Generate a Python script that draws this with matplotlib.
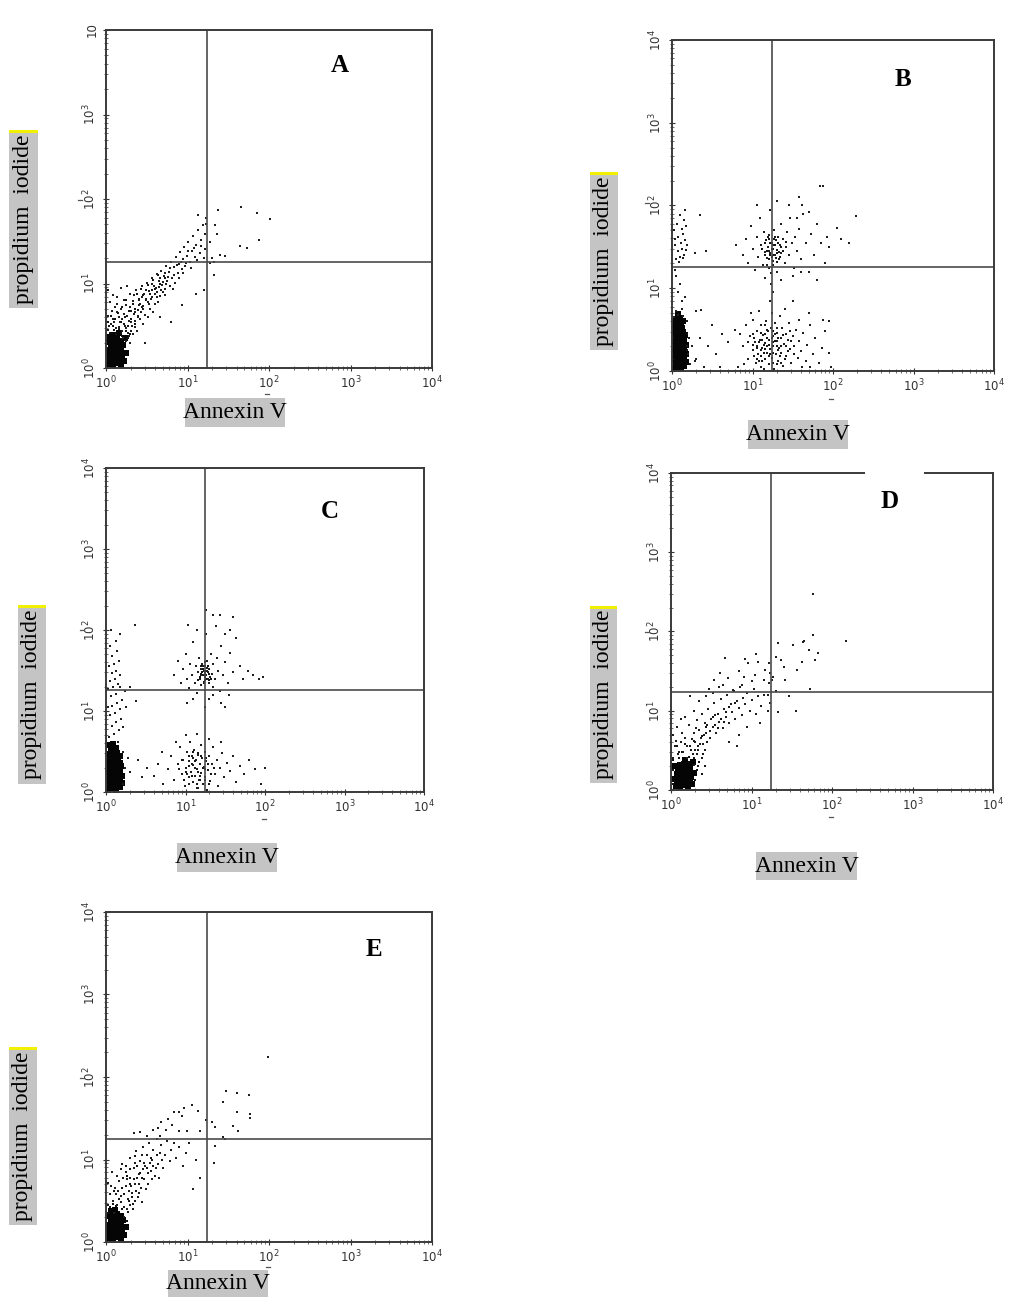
import matplotlib
matplotlib.use('Agg')
import matplotlib.pyplot as plt
from matplotlib.patches import Rectangle
from matplotlib.lines import Line2D
import numpy as np

# ---------------- data (log10 decades of Annexin V, propidium iodide) ----------------
letters = ['A', 'B', 'C', 'D', 'E']
decade_ticks = [1, 10, 100, 1000, 10000]
x_tick_labels = [r'$10^0$', r'$10^1$', r'$10^2$', r'$10^3$', r'$10^4$']
y_tick_labels = [r'$10^0$', r'$10^1$', r'$10^2$', r'$10^3$', r'$10^4$']
y_tick_labels_A = [r'$10^0$', r'$10^1$', r'$10^2$', r'$10^3$', '10']
gate_x = [17.5, 17.4, 17.6, 17.4, 17.4]
gate_y = [17.8, 18.2, 18.0, 17.4, 17.8]

A_core = [(0.03,0.05),(0.08,0.03),(0.13,0.06),(0.18,0.04),(0.22,0.08),(0.05,0.10),(0.10,0.09),(0.15,0.11),
          (0.20,0.13),(0.02,0.15),(0.07,0.15),(0.12,0.16),(0.17,0.17),(0.04,0.21),(0.09,0.20),(0.14,0.22),
          (0.19,0.21),(0.24,0.18),(0.06,0.26),(0.11,0.27),(0.16,0.28),(0.21,0.27),(0.03,0.31),(0.08,0.33),
          (0.13,0.34),(0.18,0.32),(0.23,0.35),(0.10,0.39),(0.16,0.41),(0.05,0.37)]
A_mid = [(0.05,0.42),(0.12,0.40),(0.20,0.38),(0.27,0.36),(0.08,0.50),(0.16,0.46),(0.24,0.44),(0.31,0.44),(0.11,0.58),
         (0.19,0.54),(0.27,0.50),(0.35,0.52),(0.06,0.62),(0.15,0.65),(0.23,0.60),(0.31,0.58),(0.39,0.62),(0.20,0.72),
         (0.28,0.68),(0.36,0.70),(0.44,0.72),(0.25,0.80),(0.33,0.76),(0.41,0.80),(0.49,0.80),(0.38,0.88),(0.46,0.86),
         (0.54,0.88),(0.43,0.94),(0.52,0.98),(0.60,0.94),(0.58,1.04),(0.66,1.00),(0.64,1.10),(0.72,1.06),(0.10,0.45),
         (0.02,0.55),(0.18,0.42),(0.30,0.40),(0.22,0.52)]
A_band = [(0.02,0.45),(0.06,0.52),(0.03,0.62),(0.09,0.58),(0.12,0.47),(0.14,0.66),(0.05,0.78),(0.17,0.55),(0.20,0.44),(0.19,0.70),
          (0.23,0.50),(0.22,0.80),(0.26,0.62),(0.27,0.42),(0.29,0.72),(0.30,0.88),(0.31,0.54),(0.34,0.64),(0.33,0.79),(0.36,0.48),
          (0.37,0.92),(0.39,0.69),(0.41,0.82),(0.42,0.58),(0.44,0.97),(0.45,0.73),(0.47,0.87),(0.48,0.63),(0.50,1.01),(0.51,0.78),
          (0.53,0.91),(0.54,0.70),(0.56,1.06),(0.57,0.84),(0.59,0.97),(0.60,0.76),(0.62,1.11),(0.63,0.90),(0.65,1.03),(0.66,0.85),
          (0.68,1.15),(0.69,0.98),(0.71,1.09),(0.72,0.93),(0.74,1.21),(0.75,1.03),(0.77,1.14),(0.78,0.97),(0.80,1.26),(0.81,1.07),
          (0.83,1.19),(0.85,1.01),(0.86,1.31),(0.88,1.13),(0.89,1.23),(0.91,1.37),(0.93,1.17),(0.94,1.29),(0.96,1.43),(0.97,1.21),
          (0.99,1.33),(1.01,1.49),(1.03,1.26),(1.05,1.39),(1.07,1.56),(1.09,1.31),(1.11,1.46),(1.13,1.63),(1.15,1.36),(1.17,1.51),
          (1.19,1.69),(1.21,1.41),(1.22,1.59),(1.23,1.77),
          (0.25,0.32),(0.28,0.38),(0.30,0.30),(0.24,0.47),(0.33,0.40),(0.16,0.60),(0.11,0.72),(0.08,0.86),(0.02,0.92),(0.14,0.84),
          (0.18,0.95),(0.26,0.97),(0.35,0.56),(0.38,0.44),(0.40,0.74),(0.43,0.66),(0.46,0.52),(0.52,0.60),(0.55,0.82),(0.58,0.66),
          (0.61,0.95),(0.64,0.78),(0.67,0.92),(0.70,1.02),(0.73,0.86),(0.76,1.08),(0.79,1.18),(0.82,0.93),(0.84,1.10),(0.87,1.22),
          (0.90,1.07),(0.92,1.26),(0.95,1.12),(0.98,1.24),(1.00,1.38),(1.04,1.18),(1.08,1.42),(1.12,1.28),(1.16,1.44),(1.20,1.30),
          (0.21,0.36),(0.20,0.58),(0.32,0.50),(0.36,0.66),(0.44,0.84),(0.49,0.92),(0.57,1.00),(0.60,0.88),(0.65,0.96),(0.72,1.12),
          (0.04,0.50),(0.07,0.68),(0.10,0.55),(0.13,0.76),(0.16,0.48),(0.22,0.64),(0.25,0.74),(0.28,0.56),(0.31,0.68),(0.34,0.86),
          (0.39,0.60),(0.42,0.76),(0.46,0.70),(0.49,0.82),(0.53,0.76),(0.56,0.92),(0.62,0.84),(0.66,1.06),(0.70,0.90),(0.74,1.00)]
A_sparse = [(1.38,1.87),(1.66,1.91),(1.85,1.83),(2.01,1.76),(1.88,1.52),(1.64,1.44),(1.73,1.42),(1.34,1.69),(1.36,1.58),
            (1.28,1.49),(1.40,1.34),(1.46,1.33),(1.32,1.26),(1.32,1.10),(1.20,0.92),(1.11,0.88),(0.93,0.75),(0.66,0.60),
            (1.13,1.81),(1.23,1.71),(1.30,1.30),(1.27,1.24),(0.48,0.29),(0.80,0.55)]

B_core = [(0.03,0.03),(0.07,0.05),(0.11,0.03),(0.15,0.06),(0.05,0.09),(0.09,0.10),(0.13,0.09),(0.17,0.11),
          (0.03,0.14),(0.07,0.15),(0.11,0.16),(0.15,0.14),(0.05,0.20),(0.09,0.19),(0.13,0.21),(0.17,0.20),
          (0.03,0.25),(0.07,0.26),(0.11,0.24),(0.15,0.26),(0.05,0.30),(0.09,0.31),(0.13,0.30),(0.17,0.32),
          (0.03,0.36),(0.07,0.35),(0.11,0.37),(0.15,0.36),(0.05,0.41),(0.09,0.42),(0.13,0.40),(0.16,0.43),
          (0.03,0.47),(0.07,0.46),(0.11,0.48),(0.14,0.47),(0.05,0.52),(0.09,0.53),(0.13,0.52),(0.07,0.57),
          (0.11,0.58),(0.04,0.56),(0.05,0.62),(0.10,0.64),(0.14,0.60),(0.08,0.69)]
B_mid = [(1.02,0.40),(1.06,0.28),(1.10,0.46),(1.14,0.22),(1.18,0.40),(1.22,0.20),(1.26,0.48),(1.30,0.30),(1.34,0.18),
         (1.38,0.44),(1.05,0.15),(1.12,0.12),(1.20,0.32),(1.28,0.36),(1.36,0.30),(1.44,0.24),(1.48,0.36),(1.16,0.26),
         (1.24,0.40),(1.32,0.40),(1.08,0.35),(1.40,0.15),(1.52,0.20),(1.00,0.32),(1.26,0.22),(1.18,0.50),(1.10,0.18),
         (1.30,0.08),(1.15,1.55),(1.18,1.45),(1.20,1.35),(1.22,1.55),(1.24,1.48),(1.26,1.40),(1.28,1.52),(1.30,1.42),
         (1.32,1.55),(1.34,1.38),(1.36,1.50),(1.20,1.60),(1.16,1.40),(1.25,1.28),(1.38,1.45),(1.28,1.62),(1.42,1.56),
         (1.22,1.40),(1.31,1.32),(1.12,1.48),(0.19,0.45),(0.19,0.25),(0.01,0.40),(0.01,0.15)]
B_ul = [(0.05,1.35),(0.10,1.38),(0.15,1.40),(0.08,1.45),(0.13,1.48),(0.18,1.46),(0.04,1.52),(0.11,1.55),(0.16,1.58),
        (0.07,1.62),(0.14,1.66),(0.03,1.70),(0.12,1.72),(0.17,1.75),(0.06,1.78),(0.15,1.82),(0.10,1.88),(0.16,1.95),
        (0.04,1.60),(0.19,1.52),(0.09,1.32),(0.14,1.36),(0.42,1.45),(0.35,1.88),(0.28,1.42),(0.05,1.15),(0.10,1.05),
        (0.07,0.95),(0.12,0.85),(0.04,1.22),(0.30,0.72),(0.36,0.74),(0.16,0.90),(0.02,0.65),(0.08,0.68),(0.14,0.66),
        (0.19,0.60),(0.21,0.40),(0.20,0.20),(0.22,0.08),(0.05,0.72),(0.12,0.75),(0.25,0.30),(0.30,0.15),(0.19,0.30)]
B_lr = [(0.88,0.30),(0.92,0.55),(0.95,0.15),(0.97,0.42),(1.00,0.25),(1.01,0.62),(1.03,0.35),(1.04,0.10),(1.06,0.48),(1.07,0.20),
        (1.09,0.38),(1.10,0.56),(1.11,0.05),(1.12,0.28),(1.13,0.44),(1.15,0.15),(1.16,0.34),(1.17,0.60),(1.18,0.22),(1.19,0.48),
        (1.20,0.08),(1.21,0.38),(1.22,0.27),(1.23,0.52),(1.24,0.16),(1.25,0.42),(1.26,0.30),(1.27,0.03),(1.28,0.58),(1.29,0.20),
        (1.30,0.36),(1.31,0.46),(1.32,0.12),(1.33,0.28),(1.34,0.66),(1.35,0.40),(1.36,0.22),(1.37,0.52),(1.38,0.06),(1.39,0.33),
        (1.41,0.45),(1.42,0.18),(1.44,0.38),(1.45,0.58),(1.47,0.26),(1.48,0.10),(1.50,0.42),(1.52,0.30),(1.54,0.50),(1.56,0.16),
        (1.58,0.36),(1.60,0.24),(1.63,0.46),(1.66,0.12),(1.68,0.32),(1.72,0.55),(1.75,0.20),(1.78,0.40),(1.82,0.10),(1.86,0.28),
        (1.90,0.48),(1.95,0.22),(1.98,0.05),(0.90,0.08),(0.85,0.45),(0.98,0.70),(1.08,0.72),(1.14,0.02),(1.24,0.70),(1.40,0.75),
        (1.58,0.62),(1.70,0.70),(1.22,0.85),(1.05,0.30),(1.15,0.45),(1.25,0.35),(1.18,0.30),(1.28,0.45),(1.12,0.38),(1.32,0.25),
        (1.02,0.18),(1.36,0.10),(1.46,0.48),(1.20,0.18),(1.10,0.25),(0.95,0.35),(1.62,0.05),(1.88,0.62),(1.72,0.05),
        (0.35,0.40),(0.45,0.30),(0.55,0.20),(0.62,0.45),(0.70,0.35),(0.78,0.50),(0.50,0.55),(0.28,0.12),(0.60,0.05),
        (0.82,0.05),(0.40,0.05),(1.08,0.12),(1.14,0.32),(1.26,0.10),(1.30,0.52),(1.16,0.55),(1.00,0.45),(1.42,0.30)]
B_ur = [(0.88,1.40),(0.92,1.60),(0.95,1.30),(0.98,1.75),(1.00,1.48),(1.03,1.22),(1.05,1.62),(1.07,1.38),(1.09,1.85),(1.11,1.52),
        (1.13,1.28),(1.14,1.68),(1.15,1.44),(1.16,1.12),(1.17,1.58),(1.18,1.36),(1.19,1.50),(1.20,1.25),(1.21,1.64),(1.22,1.42),
        (1.23,1.05),(1.24,1.55),(1.25,1.33),(1.26,1.48),(1.27,1.70),(1.28,1.40),(1.29,1.58),(1.30,1.20),(1.31,1.46),(1.32,1.62),
        (1.33,1.35),(1.34,1.52),(1.35,1.78),(1.36,1.42),(1.38,1.60),(1.40,1.30),(1.41,1.50),(1.43,1.68),(1.45,1.40),(1.47,1.85),
        (1.49,1.55),(1.51,1.25),(1.53,1.62),(1.55,1.45),(1.58,1.72),(1.60,1.35),(1.63,1.90),(1.66,1.55),(1.70,1.20),(1.73,1.65),
        (1.76,1.40),(1.80,1.78),(1.85,1.55),(1.90,1.30),(1.22,1.95),(1.30,2.05),(1.45,2.00),(1.58,2.10),(1.35,1.10),(1.50,1.15),
        (1.24,1.38),(1.26,1.52),(1.21,1.45),(1.29,1.36),(1.19,1.62),(1.33,1.44),(1.18,1.28),(1.27,1.60),(1.23,1.18),(0.80,1.52)]
B_sparse = [(2.29,1.87),(2.05,1.73),(1.84,2.23),(1.88,2.23),(2.10,1.60),(1.95,1.50),(1.92,1.62),(2.20,1.55),(1.60,1.20),
            (1.80,1.10),(1.50,0.85),(1.95,0.60),(1.25,0.95),(1.05,2.00),(1.62,2.00),(1.70,1.92),(1.55,1.85)]

C_core = [(0.03,0.03),(0.08,0.05),(0.13,0.03),(0.18,0.06),(0.05,0.09),(0.10,0.10),(0.15,0.09),(0.20,0.11),
          (0.03,0.14),(0.08,0.15),(0.13,0.16),(0.18,0.14),(0.05,0.20),(0.10,0.19),(0.15,0.21),(0.20,0.20),
          (0.03,0.25),(0.08,0.26),(0.13,0.24),(0.18,0.26),(0.05,0.30),(0.10,0.31),(0.15,0.30),(0.19,0.32),
          (0.03,0.36),(0.08,0.35),(0.13,0.37),(0.17,0.36),(0.05,0.41),(0.10,0.42),(0.15,0.40),(0.04,0.47),
          (0.09,0.46),(0.14,0.48),(0.06,0.53),(0.12,0.54),(0.09,0.59),(0.17,0.44),(0.02,0.58)]
C_mid = [(1.18,1.42),(1.21,1.48),(1.24,1.44),(1.27,1.50),(1.30,1.46),(1.22,1.52),(1.26,1.40),(1.19,1.55),(1.28,1.56),
         (1.32,1.40),(1.24,1.60),(1.16,1.38),(1.23,1.35),(1.29,1.38),(1.20,1.46),(0.95,0.40),(1.00,0.25),(1.04,0.45),
         (1.08,0.20),(1.12,0.38),(1.16,0.25),(1.20,0.45),(1.24,0.15),(1.28,0.35),(1.32,0.22),(1.05,0.32),(1.14,0.10),
         (1.22,0.30),(1.18,0.15),(1.10,0.50),(1.26,0.42),(1.36,0.30),(0.98,0.15),(1.30,0.10),(1.16,0.48)]
C_left = [(0.04,0.68),(0.10,0.72),(0.16,0.76),(0.07,0.82),(0.13,0.86),(0.19,0.90),(0.05,0.95),(0.11,0.98),(0.17,1.02),
          (0.08,1.06),(0.14,1.10),(0.20,1.14),(0.06,1.18),(0.12,1.21),(0.03,1.27),(0.09,1.30),(0.15,1.33),(0.05,1.37),
          (0.11,1.40),(0.17,1.44),(0.07,1.47),(0.13,1.50),(0.04,1.55),(0.10,1.58),(0.16,1.62),(0.08,1.68),(0.14,1.74),
          (0.05,1.80),(0.12,1.86),(0.17,1.95),(0.06,2.00),(0.24,1.25),(0.22,0.80),(0.30,1.30),(0.38,1.12),(0.25,1.05),
          (0.36,2.06),(0.18,1.30),(0.02,1.05),(0.15,0.62),(0.22,0.50),(0.24,0.30),(0.21,0.10),(0.28,0.42)]
C_ur = [(0.85,1.45),(0.90,1.62),(0.94,1.35),(0.97,1.52),(1.00,1.70),(1.02,1.40),(1.04,1.28),(1.06,1.58),(1.08,1.45),(1.10,1.85),
        (1.12,1.35),(1.13,1.55),(1.15,1.22),(1.16,1.48),(1.17,1.65),(1.18,1.40),(1.19,1.52),(1.20,1.32),(1.21,1.58),(1.22,1.45),
        (1.23,1.50),(1.24,1.38),(1.25,1.55),(1.26,1.44),(1.27,1.62),(1.28,1.48),(1.29,1.35),(1.30,1.52),(1.31,1.42),(1.32,1.70),
        (1.33,1.46),(1.34,1.30),(1.35,1.58),(1.37,1.40),(1.39,1.66),(1.41,1.50),(1.43,1.25),(1.45,1.80),(1.47,1.45),(1.50,1.60),
        (1.53,1.35),(1.56,1.72),(1.60,1.48),(1.64,1.90),(1.68,1.55),(1.72,1.40),(1.78,1.50),(1.85,1.45),(1.26,1.95),(1.38,2.05),
        (1.15,2.00),(1.50,1.95),(1.24,1.42),(1.26,1.50),(1.22,1.55),(1.28,1.40),(1.25,1.47),(1.23,1.36),(1.27,1.53),(1.20,1.44),
        (1.10,1.15),(1.30,1.15),(1.45,1.10),(1.55,1.20),(1.02,1.10),(1.25,1.05),(1.50,1.05),(1.35,1.20)]
C_lr = [(0.52,0.30),(0.60,0.20),(0.66,0.35),(0.72,0.10),(0.78,0.28),(0.82,0.45),(0.86,0.15),(0.90,0.35),(0.93,0.55),(0.95,0.22),
        (0.97,0.40),(0.99,0.08),(1.01,0.30),(1.02,0.50),(1.04,0.18),(1.05,0.38),(1.06,0.62),(1.07,0.25),(1.08,0.44),(1.09,0.12),
        (1.10,0.33),(1.11,0.52),(1.12,0.20),(1.13,0.40),(1.14,0.05),(1.15,0.28),(1.16,0.46),(1.17,0.15),(1.18,0.35),(1.19,0.58),
        (1.20,0.24),(1.21,0.42),(1.22,0.10),(1.23,0.31),(1.24,0.50),(1.25,0.18),(1.26,0.38),(1.27,0.03),(1.28,0.27),(1.29,0.45),
        (1.31,0.14),(1.33,0.34),(1.35,0.55),(1.37,0.22),(1.39,0.40),(1.41,0.08),(1.43,0.30),(1.46,0.48),(1.49,0.18),(1.52,0.36),
        (1.56,0.26),(1.60,0.44),(1.64,0.12),(1.68,0.32),(1.74,0.22),(1.80,0.40),(1.88,0.28),(1.95,0.10),(2.00,0.30),
        (0.45,0.18),(0.40,0.40),(0.30,0.25),(0.70,0.50),(0.88,0.62),(1.00,0.70),(1.15,0.72),(1.30,0.66),(1.45,0.62),
        (1.05,0.10),(1.12,0.30),(1.18,0.20),(1.10,0.42),(1.24,0.28),(1.02,0.22),(0.92,0.28),(1.16,0.05),(1.08,0.35)]
C_sparse = [(0.36,2.06),(1.03,2.06),(1.26,2.25),(1.35,2.19),(1.44,2.19),(1.60,2.16),(1.56,2.00),(1.92,1.40),(1.98,1.42)]

D_core = [(0.06,0.05),(0.11,0.04),(0.16,0.06),(0.21,0.05),(0.26,0.08),(0.08,0.10),(0.13,0.10),(0.18,0.11),(0.23,0.12),
          (0.04,0.14),(0.10,0.15),(0.15,0.16),(0.20,0.16),(0.25,0.17),(0.07,0.20),(0.12,0.21),(0.17,0.21),(0.22,0.22),
          (0.28,0.21),(0.09,0.26),(0.14,0.27),(0.19,0.27),(0.24,0.28),(0.11,0.32),(0.16,0.33),(0.21,0.33),(0.05,0.30),
          (0.18,0.38),(0.27,0.35)]
D_mid = [(0.02,0.08),(0.30,0.12),(0.32,0.25),(0.29,0.40),(0.22,0.42),(0.10,0.40),(0.02,0.25),(0.35,0.35),(0.38,0.20),
         (0.14,0.48),(0.25,0.50),(0.33,0.55),(0.40,0.45),(0.45,0.60),(0.18,0.58),(0.08,0.55),(0.28,0.62),(0.38,0.68),
         (0.48,0.74),(0.55,0.82),(0.62,0.90),(0.58,0.78),(0.68,0.98),(0.52,0.92),(0.44,0.80),(0.72,1.05),(0.80,1.10),
         (0.66,0.86),(0.03,0.38),(0.42,0.30)]
D_band = [(0.02,0.40),(0.05,0.55),(0.03,0.70),(0.09,0.45),(0.12,0.60),(0.08,0.80),(0.15,0.48),(0.18,0.66),(0.20,0.40),(0.22,0.82),
          (0.24,0.55),(0.27,0.45),(0.28,0.72),(0.30,0.60),(0.32,0.88),(0.34,0.50),(0.35,0.76),(0.37,0.66),(0.39,0.96),(0.40,0.58),
          (0.42,0.84),(0.44,0.72),(0.46,1.02),(0.48,0.65),(0.50,0.90),(0.52,0.80),(0.54,1.10),(0.56,0.72),(0.58,0.96),(0.60,0.86),
          (0.62,1.15),(0.64,0.78),(0.66,1.02),(0.68,0.92),(0.70,1.20),(0.72,0.84),(0.74,1.08),(0.76,0.98),(0.78,1.25),(0.80,0.90),
          (0.82,1.12),(0.84,1.03),(0.86,1.30),(0.88,0.95),(0.90,1.16),(0.92,1.08),(0.95,1.22),(0.98,1.00),(1.00,1.14),(1.03,1.28),
          (1.06,0.96),(1.08,1.18),(1.12,1.06),(1.15,1.20),(1.20,1.00),(0.24,1.18),(0.67,1.67),(0.61,1.48),(0.92,1.65),(1.06,1.72),
          (0.96,1.60),(1.04,1.45),(1.17,1.51),(1.15,1.39),(0.88,1.32),(0.77,1.26),(1.00,1.37),(0.91,1.42),(0.54,1.39),(0.71,1.41),
          (1.08,1.62),(0.84,1.50),(0.60,1.30),(0.47,1.28),(0.35,1.12),(0.28,1.00),(0.44,1.18),(0.52,1.22),(0.65,1.32),(1.22,1.35),
          (1.23,1.48),(1.22,1.60),(1.21,1.20),(1.23,1.10),(0.85,0.70),(0.95,0.80),(0.72,0.60),(1.10,0.85),(0.82,0.55),
          (0.06,0.62),(0.14,0.72),(0.20,0.55),(0.26,0.64),(0.31,0.78),(0.36,0.58),(0.41,0.70),(0.45,0.82),(0.49,0.75),(0.55,0.95),
          (0.32,0.45),(0.38,0.40),(0.28,0.32),(0.34,0.30),(0.42,0.50),(0.12,0.90),(0.18,0.92),(0.30,0.50),(0.10,0.48)]
D_sparse = [(1.77,2.47),(1.76,1.96),(2.18,1.88),(1.65,1.88),(1.83,1.73),(1.79,1.64),(1.73,1.28),(1.55,1.00),(1.33,1.85),
            (1.37,1.64),(1.52,1.83),(1.64,1.87),(1.63,1.62),(1.56,1.51),(1.71,1.77),(1.46,1.19),(1.33,0.99),(1.42,1.39),
            (1.27,1.43),(1.31,1.68),(1.26,1.39),(1.30,1.25),(1.40,1.55)]

E_core = [(0.03,0.05),(0.08,0.03),(0.13,0.06),(0.18,0.04),(0.22,0.08),(0.05,0.10),(0.10,0.09),(0.15,0.11),
          (0.20,0.13),(0.02,0.15),(0.07,0.15),(0.12,0.16),(0.17,0.17),(0.04,0.21),(0.09,0.20),(0.14,0.22),
          (0.19,0.21),(0.24,0.18),(0.06,0.26),(0.11,0.27),(0.16,0.28),(0.21,0.27),(0.03,0.31),(0.08,0.33),
          (0.13,0.34),(0.18,0.32),(0.11,0.39),(0.06,0.37)]
E_mid = [(0.05,0.42),(0.12,0.44),(0.20,0.40),(0.27,0.36),(0.28,0.50),(0.16,0.52),(0.22,0.58),(0.32,0.55),(0.10,0.62),
         (0.20,0.66),(0.29,0.70),(0.37,0.62),(0.16,0.74),(0.26,0.80),(0.34,0.76),(0.42,0.84),(0.30,0.88),(0.38,0.92),
         (0.47,0.96),(0.55,1.02),(0.44,0.78),(0.24,0.92),(0.36,1.04),(0.02,0.35),(0.26,0.26),(0.09,0.46),(0.33,0.46),
         (0.50,0.90),(0.58,0.92),(0.62,1.05)]
E_band = [(0.02,0.45),(0.05,0.58),(0.03,0.72),(0.08,0.50),(0.11,0.66),(0.07,0.85),(0.14,0.45),(0.16,0.74),(0.19,0.56),(0.20,0.95),
          (0.22,0.42),(0.24,0.68),(0.25,0.85),(0.27,0.52),(0.29,0.78),(0.30,1.02),(0.32,0.60),(0.34,0.90),(0.35,0.70),(0.37,1.10),
          (0.39,0.55),(0.40,0.82),(0.42,0.98),(0.43,0.66),(0.45,1.15),(0.47,0.76),(0.48,0.92),(0.50,1.05),(0.52,0.70),(0.53,1.20),
          (0.55,0.86),(0.57,1.00),(0.58,1.12),(0.60,0.80),(0.62,1.25),(0.64,0.95),(0.66,1.08),(0.68,1.18),(0.70,0.90),(0.72,1.05),
          (0.75,1.22),(0.78,0.98),(0.80,1.12),(0.83,1.20),(0.86,1.02),(0.90,1.15),(0.94,0.92),(0.98,1.08),(1.02,1.20),(1.10,1.00),
          (0.34,1.32),(0.42,1.33),(0.58,1.36),(0.68,1.46),(0.76,1.49),(0.83,1.58),(0.89,1.58),(0.96,1.62),(1.05,1.66),(1.13,1.59),
          (0.93,1.53),(0.99,1.35),(0.90,1.35),(0.74,1.36),(0.64,1.38),(0.81,1.42),(1.23,1.48),(1.15,1.35),(0.66,1.29),(0.50,1.28),
          (0.10,0.35),(0.22,0.30),(0.26,0.40),(0.30,0.45),(0.18,0.48),(0.12,0.58),(0.28,0.62),(0.36,0.50),(0.33,0.40),(0.44,0.48),
          (0.06,0.68),(0.13,0.80),(0.18,0.88),(0.26,0.76),(0.31,0.68),(0.38,0.78),(0.41,0.60),(0.46,0.88),(0.49,0.64),(0.54,0.96),
          (0.56,0.76),(0.61,0.90),(0.65,0.78),(0.69,1.00),(0.15,0.62),(0.21,0.78),(0.35,0.96),(0.44,1.05),(0.52,0.84),(0.40,0.70)]
E_sparse = [(1.99,2.24),(1.47,1.83),(1.61,1.81),(1.76,1.78),(1.43,1.70),(1.61,1.58),(1.77,1.55),(1.77,1.50),(1.56,1.41),
            (1.62,1.35),(1.44,1.27),(1.30,1.46),(1.34,1.39),(1.34,1.16),(1.32,0.96),(1.15,0.78),(1.07,0.64),(1.46,1.25)]

core_sets = [A_core, B_core, C_core, D_core, E_core]
mid_sets = [A_mid, B_mid, C_mid, D_mid, E_mid]
dot_sets = [A_band + A_sparse, B_ul + B_lr + B_ur + B_sparse, C_left + C_lr + C_ur + C_sparse,
            D_band + D_sparse, E_band + E_sparse]

# ---------------- layout (pixels in a 1011 x 1297 canvas) ----------------
W, H = 1011, 1297
fig = plt.figure(figsize=(W / 100, H / 100), dpi=100)

def fx(px):
    return px / W

def fy(py):
    return 1 - py / H

axes_px = [(106, 30, 432, 368), (672, 40, 994, 371), (106, 468, 424, 792),
           (671, 473, 993, 790), (106, 912, 432, 1242)]
letter_px = [(340, 65), (903, 80), (330, 512), (890, 502), (374, 950)]
pi_box = [(9, 130, 38, 308), (590, 172, 618, 350), (18, 605, 46, 784), (590, 606, 617, 783), (9, 1047, 37, 1225)]
an_box = [(185, 398, 285, 427), (748, 420, 848, 449), (177, 843, 277, 872), (756, 852, 857, 880), (168, 1270, 268, 1297)]
dash_px = [[(80, 200), (267, 394)], [(647, 203), (831, 399)], [(82, 630), (264, 819)],
           [(647, 632), (831, 817)], [(82, 1078), (268, 1267)]]

for i in range(5):
    x0, y0, x1, y1 = axes_px[i]
    ax = fig.add_axes([fx(x0), fy(y1), fx(x1) - fx(x0), fy(y0) - fy(y1)])
    ax.set_xscale('log')
    ax.set_yscale('log')
    ax.set_xlim(1, 1e4)
    ax.set_ylim(1, 1e4)
    for s in ax.spines.values():
        s.set_color('#3a3a3a')
        s.set_linewidth(1.4)
    ax.set_xticks(decade_ticks)
    ax.set_yticks(decade_ticks)
    ax.set_xticklabels(x_tick_labels, fontsize=8.5, color='#333')
    ax.set_yticklabels(y_tick_labels_A if i == 0 else y_tick_labels, fontsize=8.5,
                       color='#333', rotation=90, va='center')
    ax.tick_params(which='major', direction='inout', length=5, width=0.8, color='#333', pad=2)
    ax.tick_params(which='minor', direction='inout', length=3, width=0.6, color='#555')
    ax.tick_params(axis='y', which='major', pad=3)

    core = np.array(core_sets[i])
    mid = np.array(mid_sets[i])
    dots = np.array(dot_sets[i])
    ax.plot(10 ** core[:, 0], 10 ** core[:, 1], ls='none', marker='s', ms=3.7, mew=0, color='#050505')
    ax.plot(10 ** mid[:, 0], 10 ** mid[:, 1], ls='none', marker='s', ms=2.0, mew=0, color='#151515')
    ax.plot(10 ** dots[:, 0], 10 ** dots[:, 1], ls='none', marker='s', ms=1.5, mew=0, color='#1e1e1e')

    ax.axvline(gate_x[i], color='#4a4a4a', lw=1.2)
    ax.axhline(gate_y[i], color='#4a4a4a', lw=1.2)

    if letters[i] == 'D':
        fig.add_artist(Rectangle((fx(865), fy(538)), fx(924) - fx(865), fy(455) - fy(538),
                                 facecolor='white', edgecolor='none', zorder=5))
    lx, ly = letter_px[i]
    fig.text(fx(lx), fy(ly), letters[i], fontsize=18, fontweight='bold', family='Liberation Serif',
             ha='center', va='center', zorder=6)

    bx0, by0, bx1, by1 = pi_box[i]
    fig.add_artist(Rectangle((fx(bx0), fy(by1)), fx(bx1) - fx(bx0), fy(by0) - fy(by1),
                             facecolor='#c4c4c4', edgecolor='none'))
    fig.add_artist(Rectangle((fx(bx0), fy(by0 + 3)), fx(bx1) - fx(bx0), fy(by0) - fy(by0 + 3),
                             facecolor='#f0f000', edgecolor='none'))
    fig.text(fx((bx0 + bx1) / 2), fy((by0 + by1) / 2), 'propidium  iodide', rotation=90,
             fontsize=17, family='Liberation Serif', ha='center', va='center')

    ax0, ay0, ax1, ay1 = an_box[i]
    fig.add_artist(Rectangle((fx(ax0), fy(ay1)), fx(ax1) - fx(ax0), fy(ay0) - fy(ay1),
                             facecolor='#c4c4c4', edgecolor='none'))
    fig.text(fx((ax0 + ax1) / 2), fy((ay0 + ay1) / 2), 'Annexin V',
             fontsize=17, family='Liberation Serif', ha='center', va='center')

    for (dx, dy) in dash_px[i]:
        fig.add_artist(Line2D([fx(dx - 2), fx(dx + 2)], [fy(dy), fy(dy)], color='#555', lw=0.9))

fig.savefig('out.png', dpi=100)
